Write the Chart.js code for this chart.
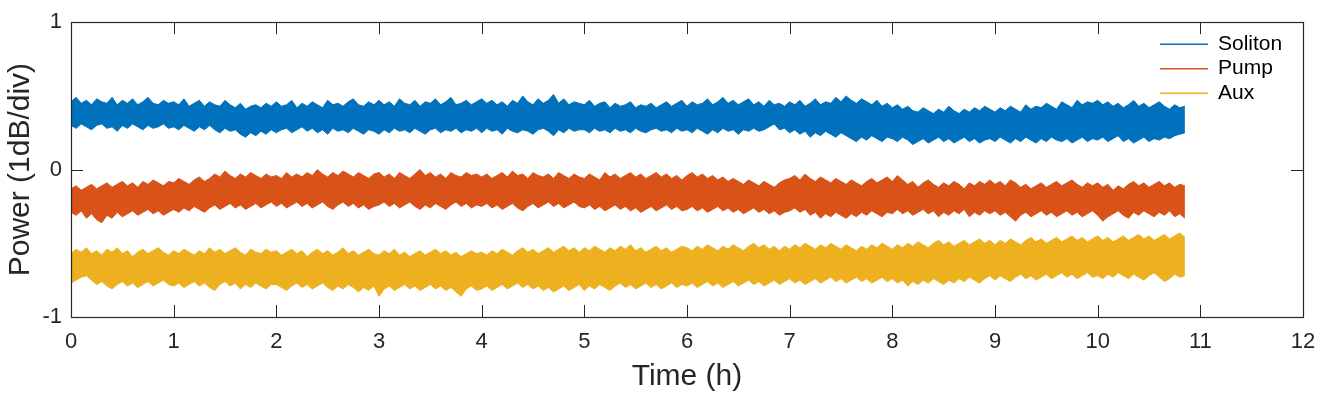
<!DOCTYPE html>
<html>
<head>
<meta charset="utf-8">
<script src="https://cdn.jsdelivr.net/npm/chart.js@4"></script>
<style>
  html, body { margin: 0; padding: 0; background: #fff; }
  #wrap { width: 1329px; height: 395px; }
</style>
</head>
<body>
<div id="wrap"><canvas id="chart"></canvas></div>
<script>
// recording grid: one sample every 0.05 h, 0 .. 10.85 h
const sampleStep = 0.05;
const sampleCount = 218;
const times = Array.from({ length: sampleCount }, (_, i) => +(i * sampleStep).toFixed(2));

// noise band of each trace, upper and lower edge (1dB/div), one row per hour
const solitonHigh = [
  0.46, 0.49, 0.45, 0.47, 0.44, 0.48, 0.46, 0.45, 0.49, 0.44, 0.47, 0.45, 0.48, 0.44, 0.46, 0.49, 0.45, 0.44, 0.47, 0.45,
  0.46, 0.44, 0.48, 0.43, 0.45, 0.47, 0.43, 0.46, 0.44, 0.43, 0.47, 0.44, 0.42, 0.45, 0.41, 0.43, 0.44, 0.42, 0.45, 0.43,
  0.46, 0.43, 0.44, 0.47, 0.42, 0.45, 0.43, 0.46, 0.44, 0.42, 0.47, 0.44, 0.45, 0.43, 0.46, 0.48, 0.44, 0.43, 0.46, 0.44,
  0.47, 0.44, 0.46, 0.43, 0.48, 0.45, 0.44, 0.47, 0.43, 0.46, 0.45, 0.48, 0.44, 0.46, 0.49, 0.44, 0.45, 0.47, 0.44, 0.46,
  0.48, 0.45, 0.47, 0.44, 0.46, 0.43, 0.47, 0.45, 0.50, 0.46, 0.44, 0.48, 0.45, 0.47, 0.51, 0.45, 0.48, 0.44, 0.46, 0.45,
  0.44, 0.47, 0.43, 0.45, 0.46, 0.42, 0.45, 0.43, 0.44, 0.46, 0.42, 0.44, 0.43, 0.45, 0.42, 0.44, 0.46, 0.43, 0.45, 0.47,
  0.43, 0.46, 0.44, 0.45, 0.48, 0.44, 0.46, 0.49, 0.45, 0.47, 0.44, 0.46, 0.48, 0.44, 0.46, 0.43, 0.47, 0.44, 0.45, 0.43,
  0.46, 0.44, 0.47, 0.43, 0.45, 0.48, 0.44, 0.46, 0.45, 0.49, 0.46, 0.50, 0.47, 0.45, 0.48, 0.46, 0.44, 0.47, 0.43, 0.45,
  0.42, 0.44, 0.41, 0.43, 0.40, 0.39, 0.42, 0.40, 0.38, 0.41, 0.39, 0.43, 0.40, 0.38, 0.41, 0.39, 0.42, 0.40, 0.43, 0.41,
  0.39, 0.42, 0.40, 0.43, 0.41, 0.39, 0.44, 0.41, 0.43, 0.42, 0.45, 0.43, 0.41, 0.46, 0.44, 0.42, 0.47, 0.44, 0.46, 0.45,
  0.47, 0.44, 0.46, 0.43, 0.45, 0.42, 0.44, 0.47, 0.43, 0.45, 0.42, 0.44, 0.46, 0.43, 0.41, 0.44, 0.42, 0.43
];
const solitonLow = [
  0.30, 0.28, 0.31, 0.29, 0.27, 0.30, 0.31, 0.28, 0.29, 0.26, 0.30, 0.28, 0.31, 0.29, 0.27, 0.30, 0.28, 0.29, 0.31, 0.28,
  0.29, 0.27, 0.30, 0.28, 0.26, 0.29, 0.27, 0.30, 0.27, 0.25, 0.28, 0.26, 0.27, 0.24, 0.22, 0.25, 0.23, 0.26, 0.24, 0.27,
  0.25, 0.27, 0.28, 0.25, 0.27, 0.29, 0.26, 0.28, 0.25, 0.27, 0.24, 0.28, 0.26, 0.27, 0.25, 0.28, 0.26, 0.24, 0.27, 0.26,
  0.24, 0.27, 0.25, 0.28, 0.26, 0.27, 0.25, 0.28, 0.26, 0.24, 0.27, 0.28, 0.25, 0.27, 0.26, 0.28, 0.25, 0.27, 0.26, 0.28,
  0.25, 0.28, 0.26, 0.27, 0.24, 0.28, 0.26, 0.25, 0.27, 0.26, 0.24, 0.27, 0.28, 0.26, 0.23, 0.27, 0.25, 0.28, 0.26, 0.27,
  0.27, 0.25, 0.28, 0.26, 0.27, 0.25, 0.28, 0.26, 0.27, 0.25, 0.28, 0.26, 0.25, 0.27, 0.28, 0.26, 0.27, 0.25, 0.28, 0.26,
  0.27, 0.25, 0.28, 0.26, 0.24, 0.27, 0.25, 0.28, 0.26, 0.27, 0.24, 0.27, 0.26, 0.28, 0.26, 0.27, 0.29, 0.31, 0.27, 0.28,
  0.25, 0.27, 0.24, 0.26, 0.22, 0.25, 0.23, 0.26, 0.24, 0.22, 0.25, 0.23, 0.21, 0.19, 0.22, 0.20, 0.23, 0.21, 0.19, 0.22,
  0.21, 0.19, 0.22, 0.20, 0.17, 0.19, 0.21, 0.18, 0.20, 0.22, 0.19, 0.21, 0.18, 0.20, 0.22, 0.19, 0.21, 0.18, 0.20, 0.21,
  0.19, 0.22, 0.20, 0.18, 0.21, 0.19, 0.22, 0.20, 0.18, 0.21, 0.19, 0.22, 0.20, 0.19, 0.21, 0.18, 0.20, 0.22, 0.19, 0.21,
  0.20, 0.22, 0.19, 0.21, 0.23, 0.19, 0.21, 0.18, 0.20, 0.22, 0.19, 0.21, 0.20, 0.22, 0.21, 0.23, 0.24, 0.25
];
const pumpHigh = [
  -0.13, -0.11, -0.14, -0.12, -0.10, -0.13, -0.11, -0.09, -0.12, -0.10, -0.08, -0.11, -0.09, -0.12, -0.08, -0.10, -0.07, -0.09, -0.11, -0.08,
  -0.09, -0.06, -0.08, -0.10, -0.07, -0.05, -0.08, -0.06, -0.03, -0.05, -0.01, -0.04, -0.06, -0.03, -0.05, -0.02, -0.04, -0.06, -0.03, -0.05,
  -0.04, -0.06, -0.02, -0.05, -0.03, -0.05, -0.02, -0.04, 0.00, -0.03, -0.05, -0.02, -0.04, -0.01, -0.03, -0.05, -0.02, -0.04, -0.06, -0.03,
  -0.02, -0.05, -0.03, -0.06, -0.02, -0.04, -0.06, -0.03, 0.00, -0.04, -0.02, -0.05, -0.03, -0.06, -0.02, -0.04, -0.05, -0.02, -0.04, -0.03,
  -0.05, -0.03, -0.06, -0.04, -0.02, -0.05, -0.01, -0.04, -0.03, -0.06, -0.02, -0.04, -0.05, -0.03, -0.06, -0.02, -0.04, -0.06, -0.03, -0.05,
  -0.06, -0.03, -0.05, -0.07, -0.02, -0.05, -0.03, -0.06, -0.04, -0.02, -0.05, -0.03, -0.06, -0.04, -0.02, -0.05, -0.03, -0.06, -0.04, -0.07,
  -0.04, -0.02, -0.05, -0.03, -0.06, -0.04, -0.07, -0.05, -0.08, -0.06, -0.08, -0.10, -0.07, -0.09, -0.11, -0.08, -0.10, -0.12, -0.09, -0.07,
  -0.06, -0.04, -0.07, -0.03, -0.06, -0.08, -0.05, -0.07, -0.09, -0.06, -0.08, -0.10, -0.07, -0.09, -0.11, -0.08, -0.06, -0.09, -0.07, -0.05,
  -0.08, -0.04, -0.07, -0.10, -0.08, -0.12, -0.09, -0.07, -0.10, -0.12, -0.09, -0.11, -0.08, -0.10, -0.13, -0.09, -0.11, -0.08, -0.10, -0.07,
  -0.10, -0.08, -0.11, -0.07, -0.09, -0.12, -0.10, -0.13, -0.11, -0.09, -0.12, -0.10, -0.08, -0.11, -0.09, -0.07, -0.10, -0.12, -0.09, -0.11,
  -0.09, -0.12, -0.10, -0.14, -0.11, -0.13, -0.10, -0.08, -0.11, -0.09, -0.12, -0.10, -0.08, -0.11, -0.09, -0.12, -0.10, -0.11
];
const pumpLow = [
  -0.29, -0.31, -0.28, -0.33, -0.30, -0.34, -0.36, -0.31, -0.33, -0.29, -0.32, -0.30, -0.28, -0.31, -0.29, -0.27, -0.30, -0.28, -0.31, -0.29,
  -0.27, -0.29, -0.26, -0.28, -0.25, -0.27, -0.29, -0.26, -0.24, -0.27, -0.25, -0.23, -0.26, -0.24, -0.27, -0.25, -0.23, -0.26, -0.24, -0.22,
  -0.25, -0.23, -0.26, -0.24, -0.22, -0.25, -0.23, -0.26, -0.24, -0.22, -0.25, -0.27, -0.24, -0.22, -0.25, -0.23, -0.26, -0.24, -0.27, -0.25,
  -0.24, -0.22, -0.25, -0.23, -0.26, -0.24, -0.22, -0.25, -0.27, -0.24, -0.26, -0.23, -0.25, -0.27, -0.24, -0.22, -0.25, -0.23, -0.26, -0.24,
  -0.25, -0.23, -0.26, -0.24, -0.27, -0.25, -0.23, -0.26, -0.28, -0.25, -0.23, -0.26, -0.24, -0.22, -0.25, -0.23, -0.26, -0.24, -0.22, -0.25,
  -0.26, -0.24, -0.27, -0.25, -0.28, -0.26, -0.24, -0.27, -0.25, -0.28, -0.26, -0.29, -0.27, -0.25, -0.28, -0.26, -0.24, -0.27, -0.25, -0.28,
  -0.27, -0.25, -0.28, -0.26, -0.29, -0.27, -0.25, -0.28, -0.26, -0.29, -0.27, -0.30, -0.28, -0.26, -0.29, -0.27, -0.30, -0.28, -0.31, -0.29,
  -0.28, -0.26, -0.29, -0.27, -0.31, -0.29, -0.33, -0.30, -0.32, -0.29, -0.31, -0.33, -0.30, -0.32, -0.29, -0.31, -0.28, -0.30, -0.32, -0.29,
  -0.30, -0.27, -0.30, -0.28, -0.31, -0.29, -0.27, -0.30, -0.28, -0.32, -0.29, -0.31, -0.28, -0.30, -0.27, -0.32, -0.29, -0.31, -0.28, -0.30,
  -0.28, -0.31, -0.29, -0.32, -0.35, -0.31, -0.29, -0.32, -0.30, -0.28, -0.31, -0.29, -0.32, -0.30, -0.28, -0.31, -0.29, -0.32, -0.30, -0.28,
  -0.31, -0.35, -0.32, -0.30, -0.28, -0.31, -0.33, -0.29, -0.31, -0.28, -0.30, -0.32, -0.29, -0.31, -0.28, -0.32, -0.30, -0.33
];
const auxHigh = [
  -0.57, -0.54, -0.56, -0.53, -0.57, -0.55, -0.58, -0.54, -0.56, -0.53, -0.57, -0.55, -0.59, -0.56, -0.54, -0.57, -0.55, -0.53, -0.56, -0.58,
  -0.55, -0.57, -0.54, -0.56, -0.58, -0.55, -0.57, -0.53, -0.56, -0.54, -0.57, -0.55, -0.53, -0.56, -0.58, -0.54, -0.56, -0.57, -0.54, -0.56,
  -0.55, -0.58, -0.56, -0.54, -0.57, -0.55, -0.59, -0.56, -0.54, -0.57, -0.55, -0.58, -0.56, -0.53, -0.57, -0.55, -0.58, -0.56, -0.54, -0.57,
  -0.58, -0.55, -0.57, -0.54, -0.58, -0.56, -0.59, -0.57, -0.55, -0.58, -0.56, -0.54, -0.57, -0.55, -0.58, -0.56, -0.59, -0.57, -0.55, -0.57,
  -0.56, -0.58, -0.55, -0.57, -0.54, -0.56, -0.58, -0.55, -0.53, -0.56, -0.54, -0.57, -0.55, -0.53, -0.56, -0.54, -0.52, -0.55, -0.53, -0.56,
  -0.53, -0.55, -0.52, -0.54, -0.56, -0.53, -0.55, -0.52, -0.54, -0.51, -0.55, -0.53, -0.56, -0.54, -0.52, -0.55, -0.53, -0.56, -0.54, -0.52,
  -0.53, -0.55, -0.52, -0.54, -0.51, -0.53, -0.55, -0.52, -0.54, -0.51, -0.53, -0.55, -0.52, -0.50, -0.53, -0.51, -0.54, -0.52, -0.55, -0.52,
  -0.54, -0.51, -0.53, -0.50, -0.52, -0.54, -0.51, -0.53, -0.50, -0.52, -0.54, -0.51, -0.53, -0.55, -0.52, -0.54, -0.51, -0.53, -0.50, -0.52,
  -0.54, -0.51, -0.53, -0.50, -0.52, -0.49, -0.51, -0.53, -0.50, -0.48, -0.51, -0.49, -0.52, -0.50, -0.48, -0.51, -0.49, -0.47, -0.50, -0.48,
  -0.51, -0.48, -0.50, -0.47, -0.49, -0.51, -0.48, -0.46, -0.49, -0.47, -0.50, -0.48, -0.46, -0.49, -0.47, -0.45, -0.48, -0.46, -0.49, -0.47,
  -0.45, -0.48, -0.46, -0.49, -0.47, -0.45, -0.48, -0.46, -0.44, -0.47, -0.45, -0.48, -0.46, -0.44, -0.47, -0.45, -0.43, -0.46
];
const auxLow = [
  -0.77, -0.75, -0.73, -0.72, -0.75, -0.78, -0.76, -0.79, -0.81, -0.78, -0.76, -0.79, -0.77, -0.80, -0.78, -0.76, -0.79, -0.77, -0.75, -0.78,
  -0.79, -0.77, -0.80, -0.78, -0.76, -0.79, -0.77, -0.80, -0.82, -0.78, -0.76, -0.79, -0.77, -0.81, -0.78, -0.80, -0.77, -0.79, -0.81, -0.78,
  -0.78, -0.80, -0.82, -0.79, -0.77, -0.80, -0.78, -0.81, -0.79, -0.77, -0.80, -0.82, -0.79, -0.81, -0.78, -0.80, -0.83, -0.80, -0.82, -0.79,
  -0.86, -0.81, -0.79, -0.82, -0.80, -0.78, -0.81, -0.79, -0.82, -0.80, -0.78, -0.81, -0.79, -0.82, -0.80, -0.83, -0.86, -0.81, -0.79, -0.82,
  -0.81, -0.79, -0.82, -0.80, -0.78, -0.81, -0.79, -0.77, -0.80, -0.78, -0.81, -0.79, -0.82, -0.80, -0.83, -0.81, -0.79, -0.82, -0.80, -0.78,
  -0.82, -0.79, -0.81, -0.78, -0.80, -0.82, -0.79, -0.77, -0.80, -0.78, -0.81, -0.79, -0.77, -0.80, -0.78, -0.81, -0.79, -0.77, -0.80, -0.78,
  -0.79, -0.77, -0.80, -0.78, -0.76, -0.79, -0.77, -0.80, -0.78, -0.76, -0.79, -0.77, -0.75, -0.78, -0.76, -0.79, -0.77, -0.75, -0.78, -0.76,
  -0.74, -0.77, -0.75, -0.78, -0.76, -0.74, -0.77, -0.75, -0.73, -0.76, -0.74, -0.77, -0.75, -0.73, -0.76, -0.74, -0.77, -0.75, -0.73, -0.76,
  -0.74, -0.77, -0.75, -0.79, -0.76, -0.78, -0.75, -0.77, -0.74, -0.76, -0.78, -0.75, -0.77, -0.74, -0.76, -0.73, -0.75, -0.77, -0.74, -0.72,
  -0.75, -0.72, -0.74, -0.76, -0.73, -0.71, -0.74, -0.72, -0.75, -0.73, -0.71, -0.74, -0.72, -0.70, -0.73, -0.71, -0.74, -0.72, -0.70, -0.73,
  -0.72, -0.74, -0.71, -0.73, -0.70, -0.72, -0.74, -0.71, -0.73, -0.75, -0.72, -0.70, -0.73, -0.76, -0.74, -0.71, -0.73, -0.72
];

const seriesNames = ['Soliton', 'Pump', 'Aux'];
const seriesColors = ['#0072BD', '#D95319', '#EDB120'];
const bands = [
  [solitonHigh, solitonLow],
  [pumpHigh, pumpLow],
  [auxHigh, auxLow]
];

const xTicks = [0, 1, 2, 3, 4, 5, 6, 7, 8, 9, 10, 11, 12];
const yTicks = [-1, 0, 1];

const axisColor = '#262626';
const fontFamily = '"Liberation Sans", Arial, Helvetica, sans-serif';

const toPoints = (vals) => vals.map((v, i) => ({ x: times[i], y: v }));

const datasets = [];
bands.forEach(([hi, lo], i) => {
  datasets.push({
    label: seriesNames[i],
    data: toPoints(hi),
    borderColor: seriesColors[i],
    borderWidth: 1,
    pointRadius: 0,
    fill: false
  });
  datasets.push({
    label: seriesNames[i] + ' low',
    data: toPoints(lo),
    borderColor: seriesColors[i],
    backgroundColor: seriesColors[i],
    borderWidth: 1,
    pointRadius: 0,
    fill: '-1'
  });
});

// MATLAB style box with inward ticks on all four sides
const boxAxes = {
  id: 'boxAxes',
  afterDatasetsDraw(chart) {
    const { ctx, chartArea: a, scales } = chart;
    const len = 12;
    ctx.save();
    ctx.strokeStyle = axisColor;
    ctx.lineWidth = 1;
    ctx.beginPath();
    xTicks.forEach(t => {
      const px = Math.round(scales.x.getPixelForValue(t)) + 0.5;
      ctx.moveTo(px, a.bottom); ctx.lineTo(px, a.bottom - len);
      ctx.moveTo(px, a.top); ctx.lineTo(px, a.top + len);
    });
    yTicks.forEach(t => {
      const py = Math.round(scales.y.getPixelForValue(t)) + 0.5;
      ctx.moveTo(a.left, py); ctx.lineTo(a.left + len, py);
      ctx.moveTo(a.right, py); ctx.lineTo(a.right - len, py);
    });
    ctx.stroke();
    ctx.lineWidth = 1.2;
    ctx.strokeRect(Math.round(a.left) + 0.5, Math.round(a.top) + 0.5,
      Math.round(a.right - a.left), Math.round(a.bottom - a.top));
    ctx.restore();
  }
};

// legend inside the top right corner
const cornerLegend = {
  id: 'cornerLegend',
  afterDraw(chart) {
    const { ctx, chartArea: a } = chart;
    ctx.save();
    ctx.font = '21px ' + fontFamily;
    ctx.textBaseline = 'middle';
    ctx.fillStyle = '#000';
    seriesNames.forEach((name, i) => {
      const y = a.top + 22 + i * 24.5;
      ctx.strokeStyle = seriesColors[i];
      ctx.lineWidth = 1.5;
      ctx.beginPath();
      ctx.moveTo(a.right - 143, y);
      ctx.lineTo(a.right - 95, y);
      ctx.stroke();
      ctx.fillText(name, a.right - 85, y);
    });
    ctx.restore();
  }
};

new Chart(document.getElementById('chart'), {
  type: 'line',
  data: { datasets },
  options: {
    responsive: true,
    maintainAspectRatio: false,
    animation: false,
    layout: { padding: { top: 22, right: 26, left: 0, bottom: 0 } },
    plugins: {
      legend: { display: false },
      tooltip: { enabled: false }
    },
    elements: { line: { tension: 0 } },
    scales: {
      x: {
        type: 'linear',
        min: 0,
        max: 12,
        afterBuildTicks: (scale) => { scale.ticks = xTicks.map(v => ({ value: v })); },
        afterFit: (scale) => { scale.height = 78; },
        grid: { display: false, drawTicks: false },
        border: { display: false },
        ticks: {
          color: axisColor,
          padding: 12,
          maxRotation: 0,
          font: { family: fontFamily, size: 22 }
        },
        title: {
          display: true,
          text: 'Time (h)',
          color: axisColor,
          padding: { top: 0, bottom: 0 },
          font: { family: fontFamily, size: 30 }
        }
      },
      y: {
        min: -1,
        max: 1,
        afterBuildTicks: (scale) => { scale.ticks = yTicks.map(v => ({ value: v })); },
        afterFit: (scale) => { scale.width = 71; },
        grid: { display: false, drawTicks: false },
        border: { display: false },
        ticks: {
          color: axisColor,
          padding: 9,
          font: { family: fontFamily, size: 22 }
        },
        title: {
          display: true,
          text: 'Power (1dB/div)',
          color: axisColor,
          padding: { top: 3, bottom: 0 },
          font: { family: fontFamily, size: 30 }
        }
      }
    }
  },
  plugins: [boxAxes, cornerLegend]
});
</script>
</body>
</html>
